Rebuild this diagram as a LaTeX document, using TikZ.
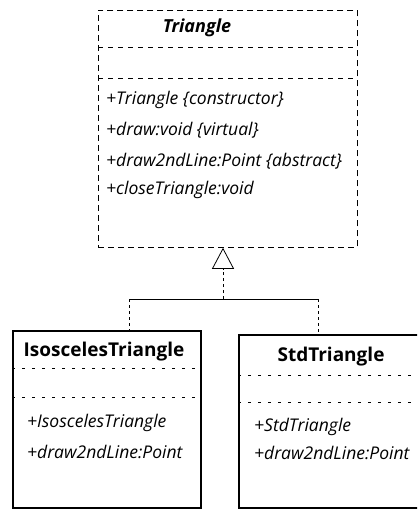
\documentclass[tikz,border=0pt]{standalone}
\usepackage{fontspec}
\setmainfont{Open Sans}
\usetikzlibrary{arrows.meta}
\begin{document}
\begin{tikzpicture}[x=1pt,y=-1pt,
  abstractbox/.style={draw, dashed, line width=0.8pt, dash pattern=on 6pt off 4pt,
    minimum width=259pt, minimum height=237pt, anchor=north west, inner sep=0pt},
  classbox/.style={draw, line width=1.6pt, anchor=north west, inner sep=0pt},
  sepline/.style={dashed, line width=0.6pt, dash pattern=on 5pt off 5pt},
  faintsep/.style={line width=0.6pt, dash pattern=on 3pt off 7pt},
  member/.style={anchor=west, inner sep=0pt, font=\fontsize{17.5}{20}\selectfont\itshape},
  title/.style={inner sep=0pt, font=\fontsize{19}{22}\selectfont\bfseries},
  link/.style={line width=0.8pt},
  dashlink/.style={line width=0.9pt, dash pattern=on 3pt off 3pt}]
\useasboundingbox (0,0) rectangle (417,510);
\clip (0,0) rectangle (417,510);

% abstract base class
\node[abstractbox] (tri) at (98,10) {};
\node[title, font=\fontsize{18}{21}\selectfont\bfseries\itshape] (trititle) at (197,28) {Triangle};
\draw[sepline] (tri.west |- 0,47) -- (tri.east |- 0,47);
\draw[sepline] (tri.west |- 0,78) -- (tri.east |- 0,78);
\node[member] (m1) at (106,100) {+Triangle \{constructor\}};
\node[member] (m2) at (106,130) {+draw:void \{virtual\}};
\node[member] (m3) at (106,161) {+draw2ndLine:Point \{abstract\}};
\node[member] (m4) at (106,190) {+closeTriangle:void};

% concrete subclasses
\node[classbox, minimum width=188pt, minimum height=177pt] (iso) at (12,330) {};
\node[title] (isotitle) at (104,352) {IsoscelesTriangle};
\draw[faintsep] (iso.west |- 0,368) -- (iso.east |- 0,368);
\draw[faintsep] (iso.west |- 0,397) -- (iso.east |- 0,397);
\node[member] (i1) at (27,423) {+IsoscelesTriangle};
\node[member] (i2) at (27,452) {+draw2ndLine:Point};

\node[classbox, minimum width=186pt, minimum height=173pt] (std) at (238,334) {};
\node[title] (stdtitle) at (331,357) {StdTriangle};
\draw[faintsep] (std.west |- 0,375) -- (std.east |- 0,375);
\draw[faintsep] (std.west |- 0,402) -- (std.east |- 0,402);
\node[member] (s1) at (254,427) {+StdTriangle};
\node[member] (s2) at (254,453) {+draw2ndLine:Point};

% generalization connector
\coordinate (join) at (223,299);
\coordinate (isotop) at (iso.north -| 129,0);
\coordinate (stdtop) at (std.north -| 318,0);
\draw[dashlink, -{Triangle[open, length=21pt, width=22pt, line width=0.8pt]}] (join) -- (tri.south -| 223,0);
\draw[link] (join -| isotop) -- (join -| stdtop);
\draw[dashlink] (join -| isotop) -- (isotop);
\draw[dashlink] (join -| stdtop) -- (stdtop);
\end{tikzpicture}
\end{document}
